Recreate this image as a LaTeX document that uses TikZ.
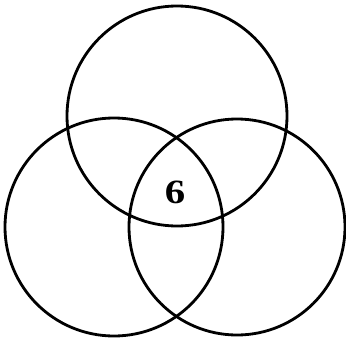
\documentclass[tikz,border=0pt]{standalone}
\usepackage{fontspec}
\setmainfont{Liberation Serif}

\begin{document}
\begin{tikzpicture}[x=1pt,y=-1pt]
                \useasboundingbox (0,0) rectangle (346,343);
                \tikzset{ring/.style={line width=2.8pt}}
                
                \draw[ring] (177,116) circle (110pt);
                \draw[ring] (114,227) circle (109pt);
                \draw[ring] (237,227) circle (108pt);
                
                \node[font=\fontsize{34}{34}\selectfont\bfseries, xscale=1.2] (six) at (175,192) {6};
            \end{tikzpicture}
\end{document}
